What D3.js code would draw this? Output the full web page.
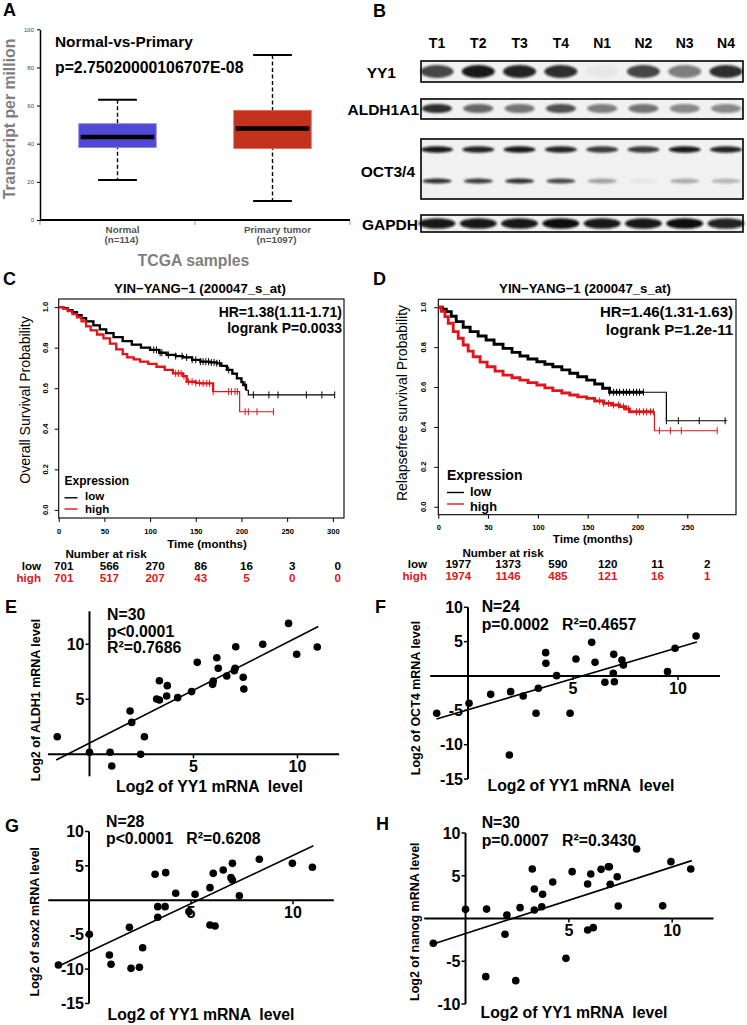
<!DOCTYPE html>
<html><head><meta charset="utf-8">
<script src="https://cdn.jsdelivr.net/npm/d3@7"></script>
<style>
body{margin:0;background:#fff}
svg{font-family:"Liberation Sans",Arial,Helvetica,sans-serif}
</style></head>
<body><svg id="c" width="747" height="1025"></svg>
<script>
// ---------------- DATA ----------------
// Panel A (box plot, TCGA)
const boxCategories = ["Normal", "Primary tumor"];
const boxCounts = ["(n=114)", "(n=1097)"];
const boxMin = [21, 10];
const boxQ1 = [38, 37.5];
const boxMedian = [43.5, 48];
const boxQ3 = [50.5, 57.5];
const boxMax = [63, 86.5];
const boxTicks = [0, 20, 40, 60, 80, 100];

// Panel B (western blot band intensities, 0..1)
const lanes = ["T1", "T2", "T3", "T4", "N1", "N2", "N3", "N4"];
const blotYY1 = [0.75, 0.95, 0.9, 0.85, 0.04, 0.75, 0.5, 0.85];
const blotALDH1A1 = [0.85, 0.6, 0.55, 0.7, 0.5, 0.55, 0.45, 0.45];
const blotOCTupper = [0.95, 0.9, 0.95, 0.9, 0.8, 0.8, 0.95, 0.9];
const blotOCTlower = [0.85, 0.8, 0.85, 0.75, 0.35, 0.04, 0.3, 0.25];
const blotGAPDH = [0.95, 0.95, 0.95, 1.0, 0.95, 0.95, 1.0, 0.9];

// Panel C (overall survival) [months, probability]
const kmCLow = [[0,1.0],[5,0.995],[10,0.985],[15,0.975],[20,0.96],[25,0.945],[30,0.93],[38,0.91],[45,0.89],[52,0.872],[60,0.852],[70,0.832],[80,0.815],[90,0.8],[100,0.789],[110,0.775],[118,0.764],[128,0.758],[136,0.752],[146,0.74],[155,0.731],[165,0.727],[173,0.723],[178,0.71],[184,0.69],[190,0.672],[195,0.649],[200,0.63],[202,0.616],[205,0.59],[207.5,0.567]];
const kmCLowEnd = 302;
const kmCLowCensor = [104,107,111,113,120,128,135,140,146,150,155,158,161,164,167,170,173,176,186,204,213,230,240,271,288,302];
const kmCHigh = [[0,1.0],[5,0.993],[10,0.98],[15,0.965],[20,0.95],[25,0.93],[30,0.905],[35,0.885],[42,0.865],[49,0.846],[56,0.82],[63,0.792],[70,0.768],[75,0.752],[82,0.742],[89,0.731],[98,0.72],[107,0.706],[116,0.69],[125,0.673],[136,0.66],[140,0.632],[150,0.626],[155,0.624],[169,0.583],[198,0.484]];
const kmCHighEnd = 235;
const kmCHighCensor = [128,131,134,137,142,146,150,154,158,162,165,169,186,189,193,195.5,204,207.5,217,235];
const riskCTimes = [0, 50, 100, 150, 200, 250, 300];
const riskCLow = [701, 566, 270, 86, 16, 3, 0];
const riskCHigh = [701, 517, 207, 43, 5, 0, 0];

// Panel D (relapse-free survival)
const kmDLow = [[0,1],[4,0.99],[8,0.978],[13,0.955],[18,0.928],[25,0.9],[32,0.878],[40,0.856],[48,0.836],[56,0.815],[65,0.794],[74,0.774],[82,0.756],[90,0.741],[99,0.727],[107,0.714],[115,0.702],[124,0.686],[132,0.669],[140,0.652],[149,0.635],[157,0.615],[165,0.594],[172,0.574],[229,0.431]];
const kmDLowEnd = 290;
const kmDLowCensor = [172,176,179,182,186,189,192,196,199,202,206,229,241,262,288];
const kmDHigh = [[0,1],[3,0.98],[6.7,0.953],[10,0.92],[15,0.878],[20,0.845],[25,0.811],[30,0.78],[35,0.752],[42,0.725],[49,0.702],[57,0.68],[65,0.66],[74,0.647],[82,0.635],[90,0.622],[99,0.61],[107,0.596],[115,0.582],[124,0.57],[132,0.56],[140,0.551],[149,0.543],[157,0.53],[166,0.518],[174,0.51],[182,0.502],[188,0.49],[192,0.476],[217,0.381]];
const kmDHighEnd = 280;
const kmDHighCensor = [162,166,171,176,181,186,191,199,202,206,209,213,216,222,233,244,280];
const riskDTimes = [0, 50, 100, 150, 200, 250];
const riskDLow = [1977, 1373, 590, 120, 11, 2];
const riskDHigh = [1974, 1146, 485, 121, 16, 1];
const kmTicksC = [0, 50, 100, 150, 200, 250, 300];
const kmTicksD = [0, 50, 100, 150, 200, 250];
const probTicks = [0, 0.2, 0.4, 0.6, 0.8, 1.0];

// Panels E-H: [log2 YY1, log2 target]
const scatterE = [[-1.55,1.6],[0,0.18],[0.99,0.18],[1.07,-1.06],[1.95,3.94],[2.03,2.9],[2.46,0],[2.64,1.6],[3.23,5.03],[3.36,4.94],[3.36,6.69],[3.74,6.24],[3.71,5.3],[4.24,5.15],[4.91,5.7],[5.18,8.36],[5.92,6.36],[5.95,6.67],[6.12,8.78],[6.19,7.82],[6.6,7.12],[6.96,7.6],[7.03,9.78],[7.0,7.82],[7.39,7.0],[7.42,5.94],[8.33,10.0],[9.57,11.9],[9.96,9.09],[10.95,9.75]];
const scatterF = [[-1.49,-5.43],[0.05,-3.98],[1.08,-2.67],[2.03,-2.28],[1.97,-11.5],[2.63,-2.91],[3.24,-5.43],[3.35,-1.79],[3.7,3.4],[3.71,1.84],[4.22,0.05],[4.86,-5.43],[5.14,2.47],[5.89,4.9],[6.05,1.99],[6.52,-0.92],[6.94,3.15],[6.92,0.39],[6.97,-0.83],[7.33,2.33],[7.4,1.6],[9.5,0.63],[9.86,4.03],[10.86,5.82]];
const scatterG = [[-1.5,-9.4],[0.02,-4.95],[1.0,-7.95],[1.08,-9.3],[1.98,-3.93],[2.06,-9.89],[2.47,-9.74],[2.63,-6.89],[3.24,3.78],[3.37,-0.92],[3.37,-2.47],[3.73,-0.92],[3.76,4.02],[4.25,1.02],[4.9,-1.65],[5.2,0.87],[5.93,1.84],[5.93,-3.59],[6.09,3.92],[6.18,-3.74],[6.58,4.4],[7.03,5.37],[6.96,3.29],[7.03,2.95],[7.37,0.67],[8.35,5.96],[9.97,5.37],[10.95,4.8]];
const scatterH = [[-1.56,-2.9],[0.0,1.07],[1.02,1.1],[0.98,-6.8],[2.0,0.41],[1.91,-1.85],[2.43,-7.27],[2.64,1.27],[3.23,5.79],[3.33,3.45],[3.33,0.99],[3.73,2.83],[3.69,1.38],[4.22,4.27],[4.86,-4.66],[5.16,5.48],[5.91,4.04],[5.91,-1.34],[6.06,5.2],[6.18,-1.07],[6.56,5.75],[6.91,6.06],[6.96,6.06],[7.0,4.0],[7.34,4.89],[7.39,1.46],[8.28,8.13],[9.54,1.48],[9.94,6.65],[10.9,5.79]];
const fitE = [0.963, 1.02, -1.6, 11.0];   // slope, intercept, x from, x to
const fitF = [0.904, -4.91, -1.5, 10.9];
const fitG = [1.40, -7.47, -1.45, 11.0];
const fitH = [0.779, -1.76, -1.56, 10.95];

// ---------------- DRAWING ----------------
const svg = d3.select("#c");
const RED = "#e0161b";

function txt(g, x, y, s, size, o = {}) {
  const t = g.append("text").attr("x", x).attr("y", y).text(s)
    .attr("font-size", size)
    .attr("font-weight", o.weight || "bold")
    .attr("fill", o.fill || "#000")
    .attr("text-anchor", o.anchor || "start");
  if (o.rotate) t.attr("transform", `rotate(${o.rotate},${x},${y})`);
  if (o.dy) t.attr("dy", o.dy);
  t.style("white-space", "pre");
  return t;
}

// panel letters
[["A",3,16],["B",373,17],["C",3,285],["D",373,285],["E",5,613],["F",375,613],["G",5,832],["H",376,830]]
  .forEach(d => txt(svg, d[1], d[2], d[0], 18));

// ===== Panel A =====
(function () {
  const g = svg.append("g");
  const y = d3.scaleLinear().domain([0, 100]).range([220, 29.3]);
  const x = d3.scaleBand().domain(boxCategories).range([40, 350]).paddingInner(0.5).paddingOuter(0.25);
  const bw = x.bandwidth();
  const ya = g.append("g").attr("transform", "translate(40,0)")
    .call(d3.axisLeft(y).tickValues(boxTicks).tickSize(3).tickSizeOuter(0));
  ya.select(".domain").attr("stroke-width", 1.5);
  ya.selectAll("text").attr("font-size", 6).attr("fill", "#444").attr("x", -6)
    .attr("font-family", '"Liberation Sans",Arial,sans-serif');
  g.append("line").attr("x1", 40).attr("x2", 350).attr("y1", 220).attr("y2", 220)
    .attr("stroke", "#000").attr("stroke-width", 2);
  const bounds = boxCategories.map(c => x(c) - x.step() * x.paddingOuter()).concat([x.range()[1]]);
  g.selectAll(".bt").data(bounds).join("line")
    .attr("x1", d => d).attr("x2", d => d).attr("y1", 221).attr("y2", 225)
    .attr("stroke", "#9cc0e8").attr("stroke-width", 1.5);
  const colors = ["#5049d6", "#c2321f"];
  boxCategories.forEach((c, i) => {
    const cx = x(c) + bw / 2;
    g.append("line").attr("x1", cx).attr("x2", cx).attr("y1", y(boxMax[i])).attr("y2", y(boxMin[i]))
      .attr("stroke", "#000").attr("stroke-width", 1.4).attr("stroke-dasharray", "4,2.5");
    [boxMin[i], boxMax[i]].forEach(v => g.append("line")
      .attr("x1", cx - bw / 4).attr("x2", cx + bw / 4).attr("y1", y(v)).attr("y2", y(v))
      .attr("stroke", "#000").attr("stroke-width", 2));
    g.append("rect").attr("x", x(c)).attr("width", bw).attr("y", y(boxQ3[i]))
      .attr("height", y(boxQ1[i]) - y(boxQ3[i])).attr("fill", colors[i])
      .attr("stroke", i ? "#e06a5a" : "#8a86ea").attr("stroke-width", 0.8);
    g.append("line").attr("x1", x(c) + 2).attr("x2", x(c) + bw - 2)
      .attr("y1", y(boxMedian[i])).attr("y2", y(boxMedian[i]))
      .attr("stroke", "#000").attr("stroke-width", 4.5);
    txt(g, cx + 5, 233, c, 9.8, { anchor: "middle", fill: "#555" });
    txt(g, cx + 4, 243, boxCounts[i], 9.8, { anchor: "middle", fill: "#555" });
  });
  txt(g, 55, 47, "Normal-vs-Primary", 15.4);
  txt(g, 55, 73, "p=2.75020000106707E-08", 15.8);
  txt(g, 15, 119, "Transcript per million", 15.8, { anchor: "middle", fill: "#7f7f7f", rotate: -90 });
  txt(g, 193.5, 266, "TCGA samples", 15.8, { anchor: "middle", fill: "#7f7f7f" });
})();

// ===== Panel B =====
(function () {
  const g = svg.append("g");
  const defs = svg.append("defs");
  defs.append("filter").attr("id", "blur").attr("x", "-30%").attr("y", "-80%").attr("width", "160%").attr("height", "260%")
    .append("feGaussianBlur").attr("stdDeviation", 1.3);
  const lx = d3.scalePoint().domain(lanes).range([437, 726]);
  g.selectAll(".ln").data(lanes).join("text")
    .attr("x", d => lx(d)).attr("y", 48).attr("text-anchor", "middle")
    .attr("font-size", 14).attr("font-weight", "bold").text(d => d);
  const rows = [
    { name: "YY1", y0: 61, y1: 82, lxEnd: 396, ly: 77.5, bands: [{ v: blotYY1, cy: 71.5, h: 13, w: 33 }] },
    { name: "ALDH1A1", y0: 99, y1: 119, lxEnd: 419, ly: 114.5, bands: [{ v: blotALDH1A1, cy: 108.5, h: 9, w: 30 }] },
    { name: "OCT3/4", y0: 139, y1: 199, lxEnd: 415, ly: 177, bands: [{ v: blotOCTupper, cy: 149.5, h: 6.5, w: 32 }, { v: blotOCTlower, cy: 181, h: 5, w: 29 }] },
    { name: "GAPDH", y0: 215, y1: 232, lxEnd: 418, ly: 230, bands: [{ v: blotGAPDH, cy: 223.5, h: 10.5, w: 37 }] }
  ];
  rows.forEach(r => {
    g.append("rect").attr("x", 421).attr("y", r.y0).attr("width", 322).attr("height", r.y1 - r.y0)
      .attr("fill", "#f1f1f1").attr("stroke", "#000").attr("stroke-width", 1.6);
    r.bands.forEach(b => {
      g.selectAll(null).data(lanes).join("ellipse")
        .attr("cx", d => lx(d)).attr("cy", b.cy).attr("rx", b.w / 2).attr("ry", b.h / 2)
        .attr("fill", "#0d0d0d").attr("opacity", (d, i) => b.v[i]).attr("filter", "url(#blur)");
    });
    txt(g, r.lxEnd, r.ly, r.name, 15.5, { anchor: "end" });
  });
})();

// ===== Panels C, D =====
function survAt(data, t) { let s = data[0][1]; data.forEach(d => { if (d[0] <= t) s = d[1]; }); return s; }

function drawKM(c) {
  const g = svg.append("g");
  const x = d3.scaleLinear().domain([0, c.xMax]).range([c.left, c.right]);
  const y = d3.scaleLinear().domain([-0.04, 1.04]).range([c.bottom, c.top]);
  g.append("rect").attr("x", c.left).attr("y", c.top).attr("width", c.right - c.left)
    .attr("height", c.bottom - c.top).attr("fill", "none").attr("stroke", "#000").attr("stroke-width", 1.1);
  const xa = g.append("g").attr("transform", `translate(0,${c.bottom})`)
    .call(d3.axisBottom(x).tickValues(c.xTicks).tickSize(4).tickSizeOuter(0));
  xa.select(".domain").remove();
  xa.selectAll("line").attr("stroke-width", 1);
  xa.selectAll("text").attr("dy", null).attr("y", c.tickLabelDy).attr("font-size", 7.5)
    .attr("font-weight", "bold").attr("font-family", '"Liberation Sans",Arial,sans-serif');
  const ya = g.append("g").attr("transform", `translate(${c.left},0)`)
    .call(d3.axisLeft(y).tickValues(probTicks).tickFormat("").tickSize(4).tickSizeOuter(0));
  ya.select(".domain").remove();
  g.selectAll(".yl").data(probTicks).join("text")
    .attr("transform", d => `translate(${c.yLabX},${y(d)}) rotate(-90)`)
    .attr("text-anchor", "middle").attr("font-size", 7.5).attr("font-weight", "bold")
    .text(d => d3.format(".1f")(d));
  const line = d3.line().x(d => x(d[0])).y(d => y(d[1])).curve(d3.curveStepAfter);
  c.curves.forEach(cv => {
    const full = cv.data.concat([[cv.end, cv.data[cv.data.length - 1][1]]]);
    g.append("path").datum(full).attr("d", line).attr("fill", "none").attr("stroke", cv.color).attr("stroke-width", 1.2);
    const dense = cv.data.filter(d => d[0] <= cv.denseUntil).concat([[cv.denseUntil, survAt(cv.data, cv.denseUntil)]]);
    g.append("path").datum(dense).attr("d", line).attr("fill", "none").attr("stroke", cv.color).attr("stroke-width", c.thick);
    g.selectAll(null).data(cv.censor).join("line")
      .attr("x1", d => x(d)).attr("x2", d => x(d))
      .attr("y1", d => y(survAt(cv.data, d)) - 3.5).attr("y2", d => y(survAt(cv.data, d)) + 3.5)
      .attr("stroke", cv.color).attr("stroke-width", 1);
  });
  txt(g, c.titleX, 293, "YIN\u2212YANG\u22121 (200047_s_at)", 13.2, { anchor: "middle" });
  txt(g, c.hrX, c.hrY[0], c.hr, c.hrSize, { anchor: "end" });
  txt(g, c.hrX, c.hrY[1], c.p, c.hrSize, { anchor: "end" });
  txt(g, c.yTitle[1], c.yTitle[2], c.yTitle[0], 14, { anchor: "middle", rotate: -90, weight: "normal" });
  const L = c.legend;
  txt(g, L.x, L.y[0], "Expression", L.size);
  g.append("line").attr("x1", L.x).attr("x2", L.x + L.lw).attr("y1", L.ly[0]).attr("y2", L.ly[0]).attr("stroke", "#000").attr("stroke-width", 1.4);
  g.append("line").attr("x1", L.x).attr("x2", L.x + L.lw).attr("y1", L.ly[1]).attr("y2", L.ly[1]).attr("stroke", RED).attr("stroke-width", 1.4);
  txt(g, L.tx, L.y[1], "low", L.itemSize);
  txt(g, L.tx, L.y[2], "high", L.itemSize);
  txt(g, c.timeX, c.timeY, "Time (months)", 11.6, { anchor: "middle" });
  txt(g, c.nrX, c.nrY, "Number at risk", 11.6, { anchor: "middle" });
  txt(g, c.rowLabX, c.riskY[0], "low", 11.6, { anchor: "end" });
  txt(g, c.rowLabX, c.riskY[1], "high", 11.6, { anchor: "end", fill: RED });
  g.selectAll(null).data(c.riskLow).join("text")
    .attr("x", (d, i) => x(c.riskTimes[i]) + c.riskDx).attr("y", c.riskY[0])
    .attr("text-anchor", "middle").attr("font-size", 11.6).attr("font-weight", "bold").text(d => d);
  g.selectAll(null).data(c.riskHigh).join("text")
    .attr("x", (d, i) => x(c.riskTimes[i]) + c.riskDx).attr("y", c.riskY[1])
    .attr("text-anchor", "middle").attr("font-size", 11.6).attr("font-weight", "bold").attr("fill", RED).text(d => d);
}

drawKM({
  left: 58.7, right: 344, top: 299, bottom: 518, xMax: 312.2, xTicks: kmTicksC, tickLabelDy: 16.3,
  yLabX: 47.8, thick: 2.3,
  curves: [
    { data: kmCLow, end: kmCLowEnd, censor: kmCLowCensor, color: "#000", denseUntil: 205 },
    { data: kmCHigh, end: kmCHighEnd, censor: kmCHighCensor, color: RED, denseUntil: 169 }
  ],
  titleX: 200, hrX: 342, hrY: [316.5, 333], hrSize: 14, hr: "HR=1.38(1.11-1.71)", p: "logrank P=0.0033",
  yTitle: ["Overall Survival Probability", 30, 400],
  legend: { x: 64.5, tx: 85, lw: 13, size: 12, itemSize: 11.5, y: [484.5, 499.5, 513], ly: [497.8, 509] },
  timeX: 207, timeY: 548, nrX: 106, nrY: 558, rowLabX: 41, riskY: [570, 581.7],
  riskTimes: riskCTimes, riskLow: riskCLow, riskHigh: riskCHigh, riskDx: 5
});
drawKM({
  left: 438.3, right: 736, top: 299.3, bottom: 514.7, xMax: 298.9, xTicks: kmTicksD, tickLabelDy: 15.6,
  yLabX: 425.8, thick: 2.9,
  curves: [
    { data: kmDLow, end: kmDLowEnd, censor: kmDLowCensor, color: "#000", denseUntil: 206 },
    { data: kmDHigh, end: kmDHighEnd, censor: kmDHighCensor, color: RED, denseUntil: 216 }
  ],
  titleX: 585, hrX: 733, hrY: [317, 335], hrSize: 15, hr: "HR=1.46(1.31-1.63)", p: "logrank P=1.2e-11",
  yTitle: ["Relapsefree survival Probability", 407, 403],
  legend: { x: 447, tx: 470, lw: 17, size: 14, itemSize: 12.8, y: [479.5, 495.8, 510.5], ly: [492.5, 504] },
  timeX: 592.7, timeY: 543, nrX: 503, nrY: 557, rowLabX: 427, riskY: [568, 580],
  riskTimes: riskDTimes, riskLow: riskDLow, riskHigh: riskDHigh, riskDx: 20
});

// ===== Panels E-H =====
function drawScatter(p) {
  const g = svg.append("g");
  const x = d3.scaleLinear().domain(p.xDomain).range(p.xRange);
  const y = d3.scaleLinear().domain(p.yDomain).range(p.yRange);
  g.append("line").attr("x1", x(p.xDomain[0])).attr("x2", x(p.xDomain[1])).attr("y1", y(0)).attr("y2", y(0))
    .attr("stroke", "#000").attr("stroke-width", 2);
  g.append("line").attr("x1", x(0)).attr("x2", x(0)).attr("y1", y(p.yDomain[0])).attr("y2", y(p.yDomain[1]))
    .attr("stroke", "#000").attr("stroke-width", 2);
  g.selectAll(null).data(p.xTicks).join("line")
    .attr("x1", d => x(d)).attr("x2", d => x(d)).attr("y1", y(0)).attr("y2", y(0) + 4)
    .attr("stroke", "#000").attr("stroke-width", 1.5);
  g.selectAll(null).data(p.xTicks).join("text")
    .attr("x", d => x(d)).attr("y", y(0) + 17.5).attr("text-anchor", "middle")
    .attr("font-size", 16).attr("font-weight", "bold").text(d => d);
  g.selectAll(null).data(p.yTicks).join("line")
    .attr("x1", x(0) - 4).attr("x2", x(0)).attr("y1", d => y(d)).attr("y2", d => y(d))
    .attr("stroke", "#000").attr("stroke-width", 1.5);
  g.selectAll(null).data(p.yTicks).join("text")
    .attr("x", x(0) - 5).attr("y", d => y(d)).attr("dy", "0.36em").attr("text-anchor", "end")
    .attr("font-size", 16).attr("font-weight", "bold").text(d => d);
  const f = p.fit;
  g.append("path").datum([f[2], f[3]].map(v => [v, f[0] * v + f[1]]))
    .attr("d", d3.line().x(d => x(d[0])).y(d => y(d[1])))
    .attr("stroke", "#000").attr("stroke-width", 1.6).attr("fill", "none");
  g.selectAll("circle").data(p.data).join("circle")
    .attr("cx", d => x(d[0])).attr("cy", d => y(d[1])).attr("r", 3.8).attr("fill", "#000");
  p.stats.forEach((s, i) => txt(g, p.statX, p.statY[i], s, 15.8));
  txt(g, p.xt[0], p.xt[1], "Log2 of YY1 mRNA  level", 15.8, { anchor: "middle" });
  txt(g, p.yt[1], p.yt[2], p.yt[0], 12.5, { anchor: "middle", rotate: -90 });
}

drawScatter({ data: scatterE, fit: fitE, xDomain: [-2, 12], xRange: [47.9, 339.1], yDomain: [-2, 13], yRange: [776.3, 611.3],
  xTicks: [5, 10], yTicks: [5, 10], stats: ["N=30", "p<0.0001", "R\u00b2=0.7686"], statX: 107, statY: [620, 636.7, 653.3],
  xt: [209.5, 791.7], yt: ["Log2 of ALDH1 mRNA level", 39.5, 700] });
drawScatter({ data: scatterF, fit: fitF, xDomain: [-1.8, 12], xRange: [430.2, 720], yDomain: [-15, 10], yRange: [779.05, 607.3],
  xTicks: [5, 10], yTicks: [-15, -10, -5, 5, 10], stats: ["N=24", "p=0.0002   R\u00b2=0.4657"], statX: 481.7, statY: [612.3, 630],
  xt: [581, 791], yt: ["Log2 of OCT4 mRNA level", 419.5, 698] });
drawScatter({ data: scatterG, fit: fitG, xDomain: [-2, 12], xRange: [48.2, 333.8], yDomain: [-15, 10], yRange: [1003.5, 831.5],
  xTicks: [5, 10], yTicks: [-15, -10, -5, 5, 10], stats: ["N=28", "p<0.0001   R\u00b2=0.6208"], statX: 106, statY: [827.3, 844.3],
  xt: [201, 1020], yt: ["Log2 of sox2 mRNA level", 39.5, 921.7] });
drawScatter({ data: scatterH, fit: fitH, xDomain: [-2, 12], xRange: [424.2, 713.5], yDomain: [-10, 10], yRange: [1004, 833],
  xTicks: [5, 10], yTicks: [-10, -5, 5, 10], stats: ["N=30", "p=0.0007   R\u00b2=0.3430"], statX: 481.7, statY: [828.3, 845.7],
  xt: [574, 1018], yt: ["Log2 of nanog mRNA level", 419.5, 921.7] });
</script>
</body></html>
